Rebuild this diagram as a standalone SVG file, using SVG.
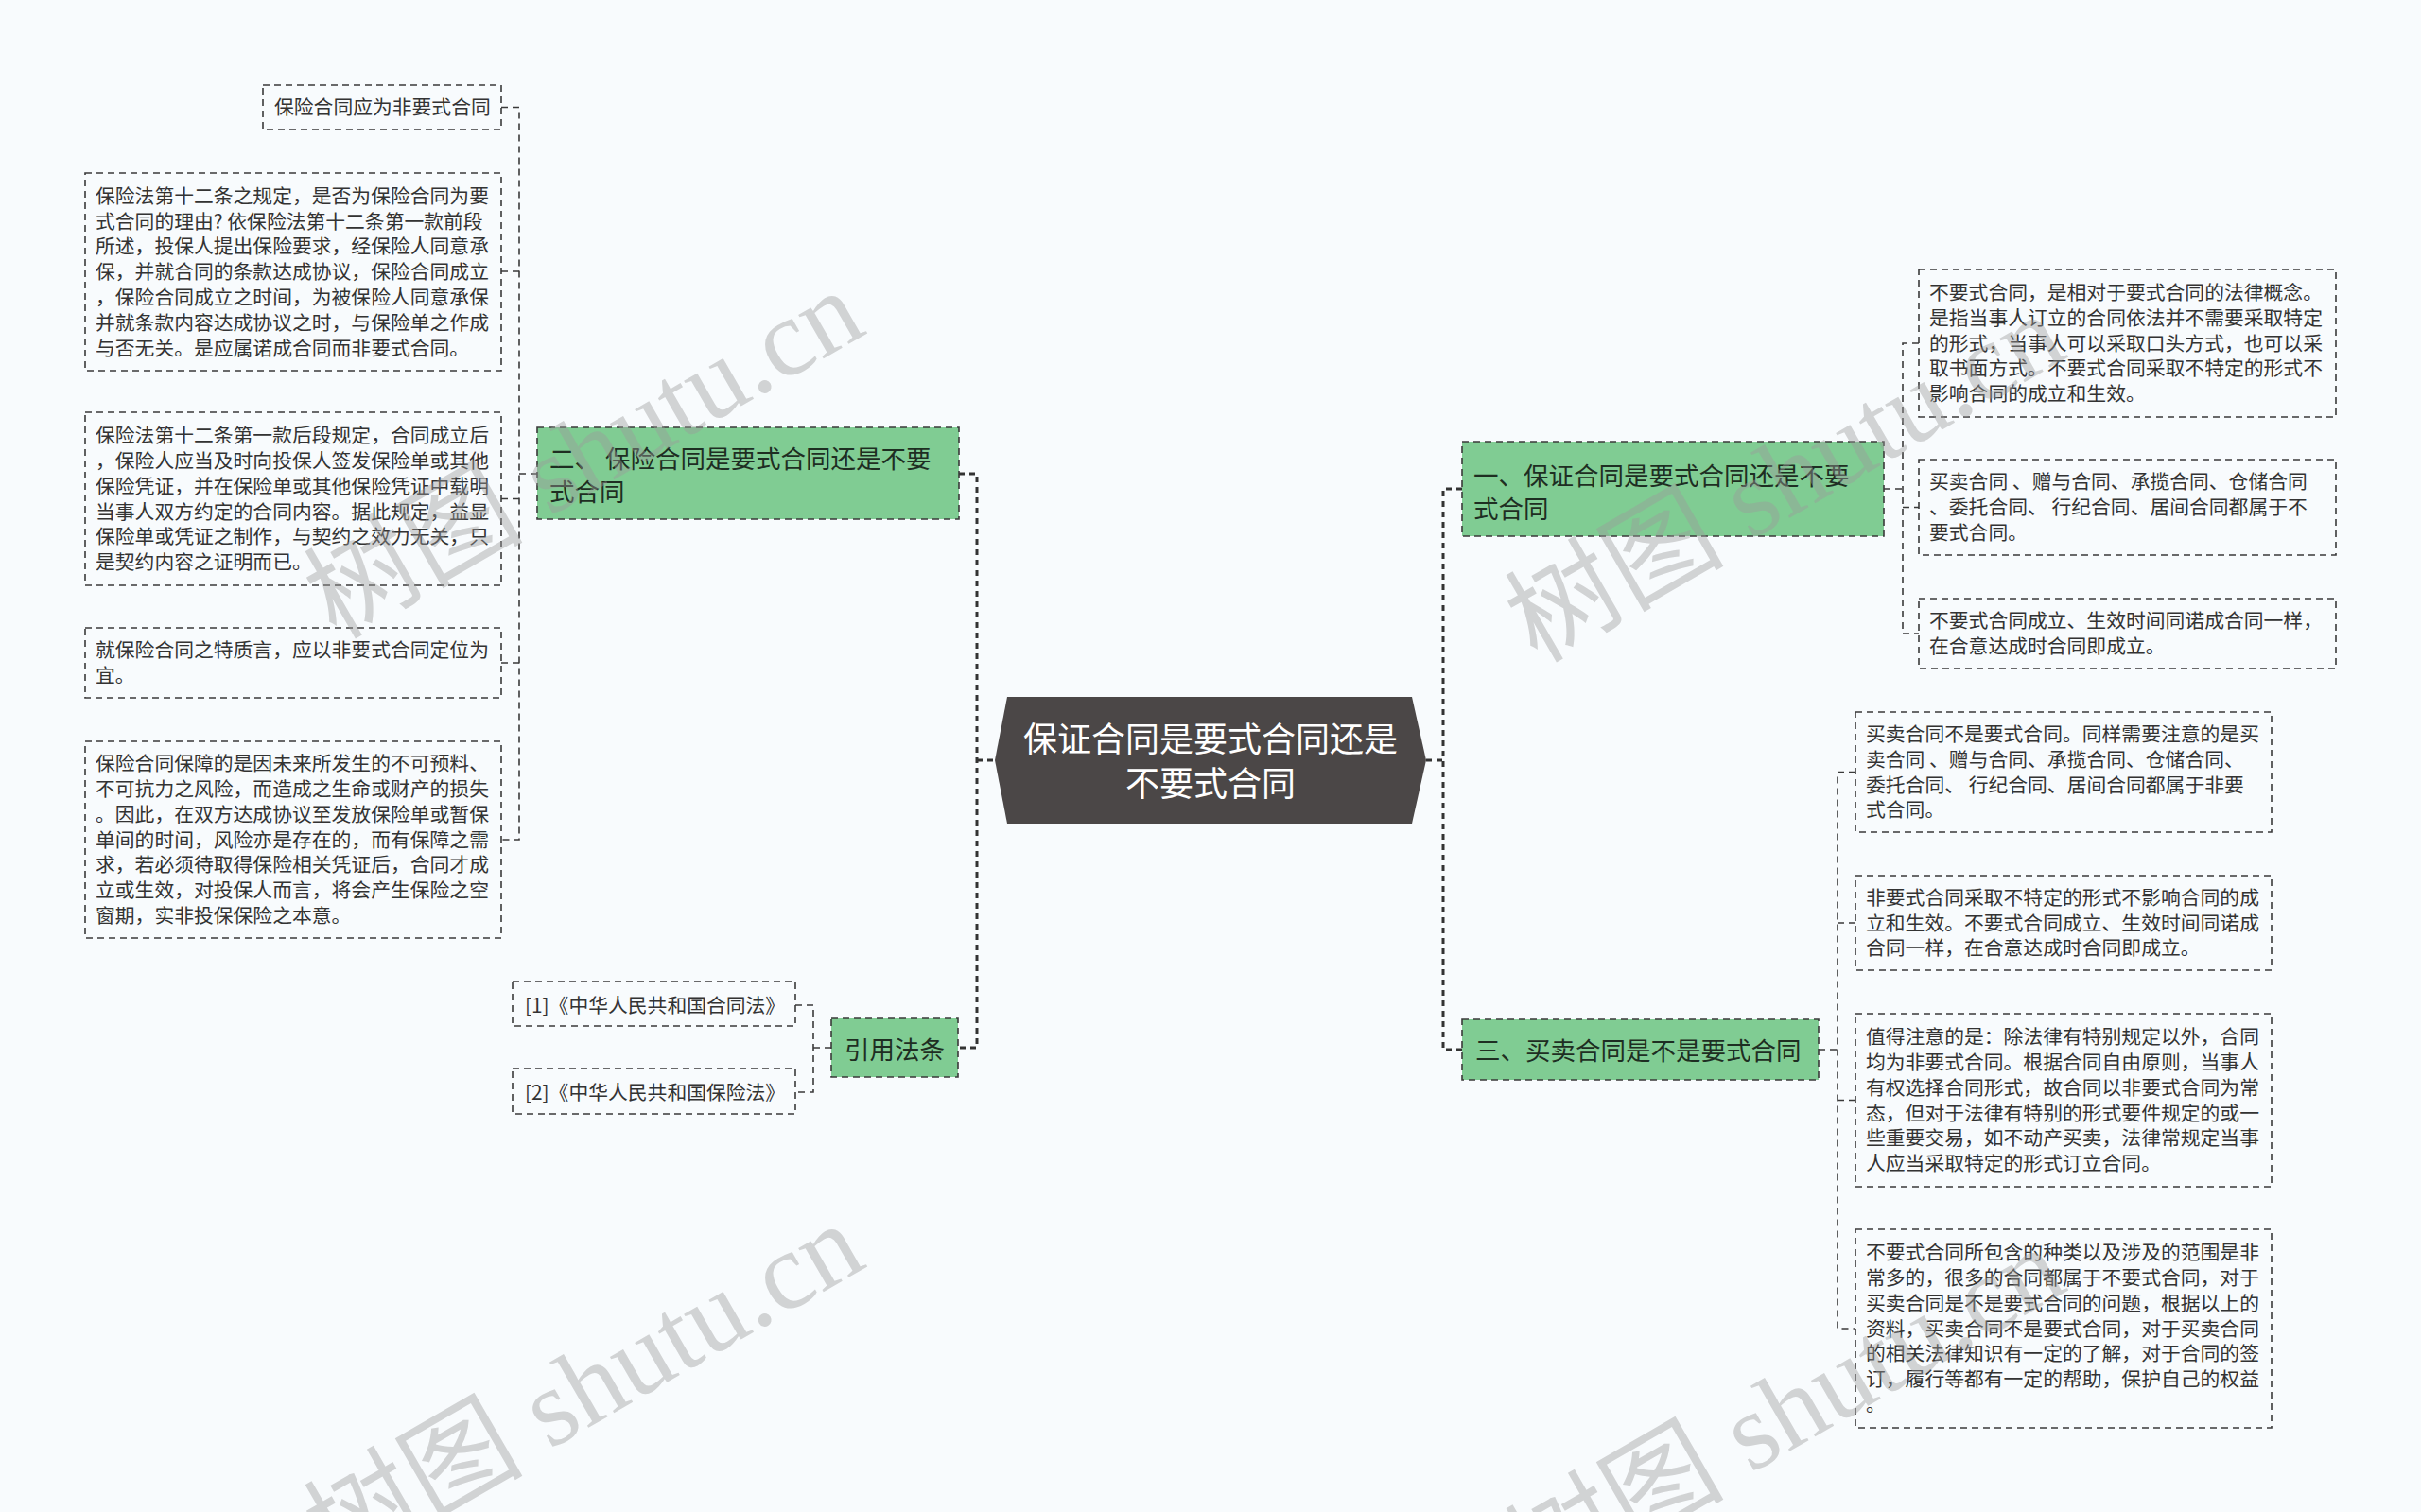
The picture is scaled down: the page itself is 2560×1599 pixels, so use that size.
<svg xmlns="http://www.w3.org/2000/svg" width="2560" height="1599" viewBox="0 0 2560 1599">
<defs>
<style>
.bg{fill:#f8fbfd}
.leaf{fill:none;stroke:#3a3a3a;stroke-width:1.6;stroke-dasharray:7 5}
.green{fill:#80cc93;stroke:#3a3a3a;stroke-width:1.6;stroke-dasharray:7 5}
.lt{font-family:"Noto Sans CJK SC","Noto Sans",sans-serif;font-size:20.8px;fill:#333}
.gt{font-family:"Noto Sans CJK SC","Noto Sans",sans-serif;font-size:26.5px;fill:#1e2e22}
.ct{font-family:"Noto Sans CJK SC","Noto Sans",sans-serif;font-size:36px;fill:#ffffff;text-anchor:middle}
.main{fill:none;stroke:#333;stroke-width:3;stroke-dasharray:6 5}
.thin{fill:none;stroke:#3a3a3a;stroke-width:1.6;stroke-dasharray:7 5}
.wm{font-family:"Liberation Serif","Noto Sans CJK SC",serif;font-size:116px;fill:#9a9a9a;fill-opacity:0.42}
</style>
</defs>
<rect class="bg" x="0" y="0" width="2560" height="1599"/>

<g id="connectors">
<path class="main" d="M1014,501 H1033 V1108 H1013"/>
<path class="main" d="M1033,804 H1052"/>
<path class="main" d="M1508,804 H1526"/>
<path class="main" d="M1546,517 H1526 V1110 H1546"/>
<path class="thin" d="M530,113.5 H549 V888 H530"/>
<path class="thin" d="M530,287 H549 M530,527.5 H549 M530,701 H549 M549,501 H568"/>
<path class="thin" d="M841,1063 H860 V1155 H841 M860,1108 H879"/>
<path class="thin" d="M2029,363 H2012 V670 H2029 M2012,536.5 H2029 M1992,517 H2012"/>
<path class="thin" d="M1962,816.5 H1943 V1405 H1962 M1943,976 H1962 M1943,1163.5 H1962 M1923,1110 H1943"/>
</g>

<g id="center">
<polygon points="1065,737 1493,737 1508,804 1493,871 1065,871 1052,804" fill="#4b4747"/>
<text class="ct"><tspan x="1280" y="795">保证合同是要式合同还是</tspan><tspan x="1280" y="842">不要式合同</tspan></text>
</g>

<g id="n2">
<rect class="green" x="568" y="452" width="446" height="97"/>
<text class="gt"><tspan x="581" y="495">二、 保险合同是要式合同还是不要</tspan><tspan x="581" y="530">式合同</tspan></text>
</g>
<g id="n2a">
<rect class="leaf" x="278" y="90" width="252" height="47"/>
<text class="lt" x="290" y="121">保险合同应为非要式合同</text>
</g>
<g id="n2b">
<rect class="leaf" x="90" y="183" width="440" height="209"/>
<text class="lt"><tspan x="101" y="214.7">保险法第十二条之规定，是否为保险合同为要</tspan><tspan x="101" y="241.5">式合同的理由? 依保险法第十二条第一款前段</tspan><tspan x="101" y="268.3">所述，投保人提出保险要求，经保险人同意承</tspan><tspan x="101" y="295.1">保，并就合同的条款达成协议，保险合同成立</tspan><tspan x="101" y="321.9">，保险合同成立之时间，为被保险人同意承保</tspan><tspan x="101" y="348.7">并就条款内容达成协议之时，与保险单之作成</tspan><tspan x="101" y="375.5">与否无关。是应属诺成合同而非要式合同。</tspan></text>
</g>
<g id="n2c">
<rect class="leaf" x="90" y="436" width="440" height="183"/>
<text class="lt"><tspan x="101" y="468.1">保险法第十二条第一款后段规定，合同成立后</tspan><tspan x="101" y="494.9">，保险人应当及时向投保人签发保险单或其他</tspan><tspan x="101" y="521.7">保险凭证，并在保险单或其他保险凭证中载明</tspan><tspan x="101" y="548.5">当事人双方约定的合同内容。据此规定，益显</tspan><tspan x="101" y="575.3">保险单或凭证之制作，与契约之效力无关，只</tspan><tspan x="101" y="602.1">是契约内容之证明而已。</tspan></text>
</g>
<g id="n2d">
<rect class="leaf" x="90" y="664" width="440" height="74"/>
<text class="lt"><tspan x="101" y="695.2">就保险合同之特质言，应以非要式合同定位为</tspan><tspan x="101" y="722">宜。</tspan></text>
</g>
<g id="n2e">
<rect class="leaf" x="90" y="784" width="440" height="208"/>
<text class="lt"><tspan x="101" y="815.2">保险合同保障的是因未来所发生的不可预料、</tspan><tspan x="101" y="842">不可抗力之风险，而造成之生命或财产的损失</tspan><tspan x="101" y="868.8">。因此，在双方达成协议至发放保险单或暂保</tspan><tspan x="101" y="895.6">单间的时间，风险亦是存在的，而有保障之需</tspan><tspan x="101" y="922.4">求，若必须待取得保险相关凭证后，合同才成</tspan><tspan x="101" y="949.2">立或生效，对投保人而言，将会产生保险之空</tspan><tspan x="101" y="976">窗期，实非投保保险之本意。</tspan></text>
</g>

<g id="ref">
<rect class="green" x="879" y="1077" width="134" height="62"/>
<text class="gt" x="946" y="1120" text-anchor="middle">引用法条</text>
</g>
<g id="ref1">
<rect class="leaf" x="542" y="1038" width="299" height="47"/>
<text class="lt" x="555" y="1071">[1]《中华人民共和国合同法》</text>
</g>
<g id="ref2">
<rect class="leaf" x="542" y="1130" width="299" height="48"/>
<text class="lt" x="555" y="1162.6">[2]《中华人民共和国保险法》</text>
</g>

<g id="n1">
<rect class="green" x="1546" y="467" width="446" height="100"/>
<text class="gt"><tspan x="1558" y="513">一、保证合同是要式合同还是不要</tspan><tspan x="1558" y="548">式合同</tspan></text>
</g>
<g id="n1a">
<rect class="leaf" x="2029" y="285" width="441" height="156"/>
<text class="lt"><tspan x="2040" y="317">不要式合同，是相对于要式合同的法律概念。</tspan><tspan x="2040" y="343.8">是指当事人订立的合同依法并不需要采取特定</tspan><tspan x="2040" y="370.6">的形式，当事人可以采取口头方式，也可以采</tspan><tspan x="2040" y="397.4">取书面方式。不要式合同采取不特定的形式不</tspan><tspan x="2040" y="424.2">影响合同的成立和生效。</tspan></text>
</g>
<g id="n1b">
<rect class="leaf" x="2029" y="486" width="441" height="101"/>
<text class="lt"><tspan x="2040" y="517.3">买卖合同 、赠与合同、承揽合同、仓储合同</tspan><tspan x="2040" y="544.1">、委托合同、 行纪合同、居间合同都属于不</tspan><tspan x="2040" y="570.9">要式合同。</tspan></text>
</g>
<g id="n1c">
<rect class="leaf" x="2029" y="633" width="441" height="74"/>
<text class="lt"><tspan x="2040" y="664.2">不要式合同成立、生效时间同诺成合同一样，</tspan><tspan x="2040" y="691">在合意达成时合同即成立。</tspan></text>
</g>

<g id="n3">
<rect class="green" x="1546" y="1078" width="377" height="64"/>
<text class="gt" x="1560" y="1121">三、买卖合同是不是要式合同</text>
</g>
<g id="n3a">
<rect class="leaf" x="1962" y="753" width="440" height="127"/>
<text class="lt"><tspan x="1973" y="783.9">买卖合同不是要式合同。同样需要注意的是买</tspan><tspan x="1973" y="810.7">卖合同 、赠与合同、承揽合同、仓储合同、</tspan><tspan x="1973" y="837.5">委托合同、 行纪合同、居间合同都属于非要</tspan><tspan x="1973" y="864.3">式合同。</tspan></text>
</g>
<g id="n3b">
<rect class="leaf" x="1962" y="926" width="440" height="100"/>
<text class="lt"><tspan x="1973" y="956.8">非要式合同采取不特定的形式不影响合同的成</tspan><tspan x="1973" y="983.6">立和生效。不要式合同成立、生效时间同诺成</tspan><tspan x="1973" y="1010.4">合同一样，在合意达成时合同即成立。</tspan></text>
</g>
<g id="n3c">
<rect class="leaf" x="1962" y="1072" width="440" height="183"/>
<text class="lt"><tspan x="1973" y="1104.1">值得注意的是：除法律有特别规定以外，合同</tspan><tspan x="1973" y="1130.9">均为非要式合同。根据合同自由原则，当事人</tspan><tspan x="1973" y="1157.7">有权选择合同形式，故合同以非要式合同为常</tspan><tspan x="1973" y="1184.5">态，但对于法律有特别的形式要件规定的或一</tspan><tspan x="1973" y="1211.3">些重要交易，如不动产买卖，法律常规定当事</tspan><tspan x="1973" y="1238.1">人应当采取特定的形式订立合同。</tspan></text>
</g>
<g id="n3d">
<rect class="leaf" x="1962" y="1300" width="440" height="210"/>
<text class="lt"><tspan x="1973" y="1332.2">不要式合同所包含的种类以及涉及的范围是非</tspan><tspan x="1973" y="1359">常多的，很多的合同都属于不要式合同，对于</tspan><tspan x="1973" y="1385.8">买卖合同是不是要式合同的问题，根据以上的</tspan><tspan x="1973" y="1412.6">资料，买卖合同不是要式合同，对于买卖合同</tspan><tspan x="1973" y="1439.4">的相关法律知识有一定的了解，对于合同的签</tspan><tspan x="1973" y="1466.2">订，履行等都有一定的帮助，保护自己的权益</tspan><tspan x="1973" y="1493">。</tspan></text>
</g>

<g id="watermarks">
<text class="wm" transform="translate(355,677) rotate(-30)">树图 shutu.cn</text>
<text class="wm" transform="translate(1625,702) rotate(-30)">树图 shutu.cn</text>
<text class="wm" transform="translate(355,1664) rotate(-30)">树图 shutu.cn</text>
<text class="wm" transform="translate(1625,1689) rotate(-30)">树图 shutu.cn</text>
</g>
</svg>
